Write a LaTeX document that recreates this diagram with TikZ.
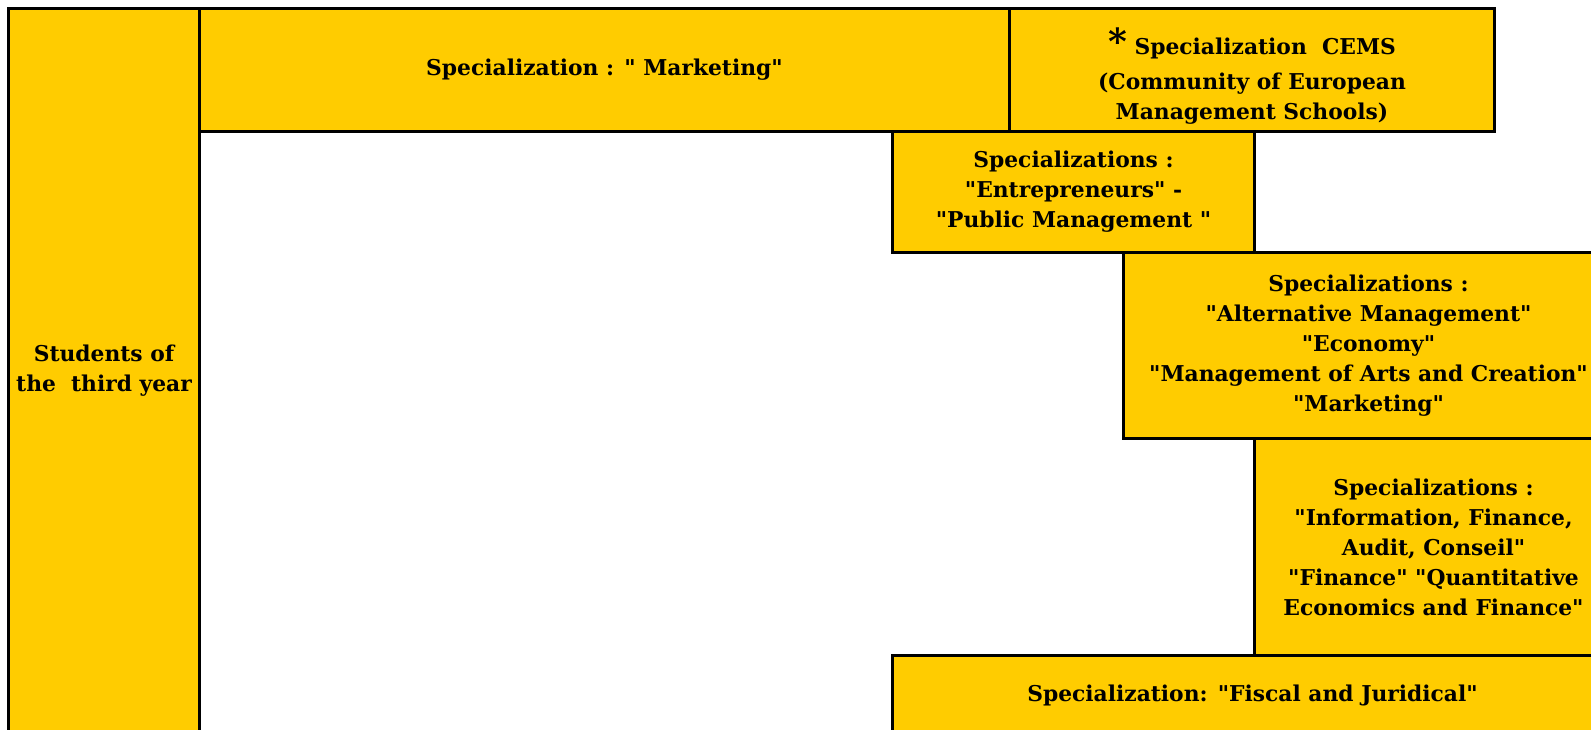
\documentclass[tikz,border=0pt]{standalone}
\usepackage{fontspec}
\setmainfont{DejaVu Serif}[Ligatures=TeXOff]
\usepackage{tikz}
\usetikzlibrary{positioning}
\definecolor{gold}{RGB}{255,204,0}

\begin{document}
\begin{tikzpicture}[x=1pt, y=-1pt, box/.style={rectangle, draw, line width=3pt, fill=gold, inner sep=0pt, align=center, anchor=north west, font=\bfseries\fontsize{21.8}{30}\selectfont}]
		\useasboundingbox (0,0) rectangle (1591,729);
		\node (students) [box, minimum width=191pt, minimum height=724pt] at (7,7) {Students of\\the \ third year};
		\node (mkt) [box, minimum width=810pt, minimum height=123pt] at (198,7) {Specialization : " Marketing"};
		\node (cems) [box, minimum width=485pt, minimum height=123pt] at (1008,7) {\rule{0pt}{38pt}{\fontsize{36}{30}\selectfont *} Specialization \ CEMS\\[5pt](Community of European\\Management Schools)};
		\node (entr) [box, minimum width=362pt, minimum height=121pt] at (891,130) {Specializations :\\"Entrepreneurs" -\\"Public Management "};
		\node (alt) [box, minimum width=490pt, minimum height=186pt] at (1122,251) {Specializations :\\"Alternative Management"\\"Economy"\\"Management of Arts and Creation"\\"Marketing"};
		\node (info) [box, minimum width=358pt, minimum height=217pt] at (1253,437) {Specializations :\\"Information, Finance,\\Audit, Conseil"\\"Finance" "Quantitative\\Economics and Finance"};
		\node (fiscal) [box, minimum width=720pt, minimum height=80pt] at (891,654) {Specialization: "Fiscal and Juridical"};
	\end{tikzpicture}
\end{document}
